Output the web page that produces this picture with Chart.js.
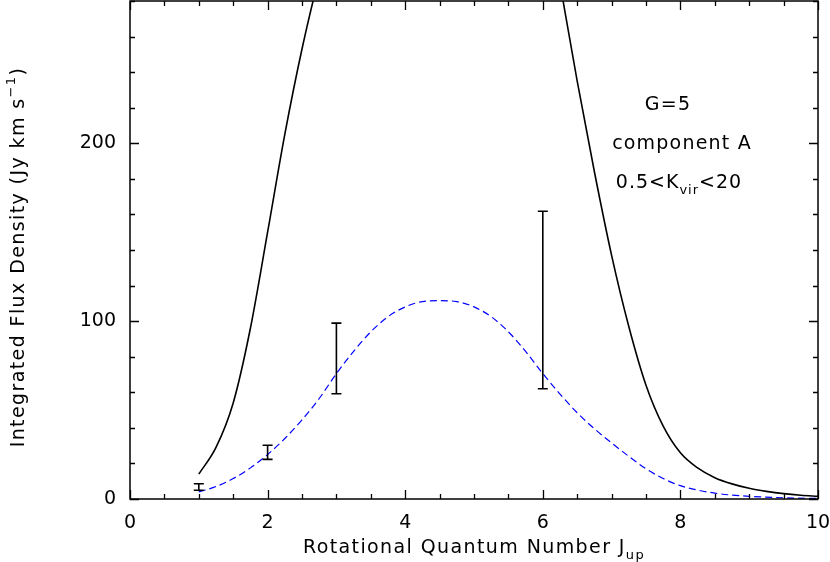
<!DOCTYPE html>
<html>
<head>
<meta charset="utf-8">
<script src="https://cdn.jsdelivr.net/npm/chart.js@4"></script>
<style>
  html, body { margin: 0; padding: 0; background: #fff; }
  #wrap { width: 830px; height: 562px; }
</style>
</head>
<body>
<div id="wrap"><canvas id="c" width="830" height="562"></canvas></div>
<script>
// ---- data ----
const modelJ      = [1.0, 1.25, 1.5, 1.75, 2.0, 2.25, 2.5, 2.75, 3.0, 6.0, 6.25, 6.5, 6.75, 7.0, 7.25, 7.5, 7.75, 8.0, 8.25, 8.5, 8.75, 9.0, 9.25, 9.5, 9.75, 10.0];
const upperModel  = [14, 29, 54, 96, 150, 205, 253, 294, 330, 345, 290, 235, 184, 137, 97, 64, 41, 26, 17.5, 12, 8.5, 6, 4.3, 3, 2.1, 1.5];

const fitJ        = [1.0, 1.25, 1.5, 1.75, 2.0, 2.25, 2.5, 2.75, 3.0, 3.25, 3.5, 3.75, 4.0, 4.25, 4.5, 4.75, 5.0, 5.25, 5.5, 5.75, 6.0, 6.25, 6.5, 6.75, 7.0, 7.25, 7.5, 7.75, 8.0, 8.25, 8.5, 8.75, 9.0, 9.5, 10.0];
const fitModel    = [4, 7, 11.5, 17.5, 25, 34, 44.5, 56.5, 70.5, 83, 94, 102.5, 108, 111, 111.5, 111, 108, 102.5, 94, 83, 70.5, 59, 48.5, 39.5, 31.5, 24, 17, 11.5, 7.5, 5, 3.3, 2.2, 1.5, 0.7, 0.3];

const obsJ        = [1, 2, 3, 6];
const obsLow      = [4.9, 22.3, 59.2, 62.0];
const obsHigh     = [8.6, 30.2, 98.9, 161.8];

const xTickLabels = ['0', '2', '4', '6', '8', '10'];
const yTickLabels = ['0', '100', '200'];

const annotation  = ['G=5', 'component A'];
const FONT = '"DejaVu Sans", "Liberation Sans", sans-serif';

// ---- plugins ----
const framePlugin = {
  id: 'frame',
  afterDraw(chart) {
    const ctx = chart.ctx;
    const { left, right, top, bottom } = chart.chartArea;
    const xs = chart.scales.x, ys = chart.scales.y;
    ctx.save();
    ctx.strokeStyle = '#000';
    ctx.lineWidth = 1.5;
    ctx.strokeRect(left, top, right - left, bottom - top);
    ctx.lineWidth = 1.3;
    ctx.beginPath();
    for (let v = xs.min; v <= xs.max + 1e-9; v += 0.5) {
      const px = Math.round(xs.getPixelForValue(v)) + 0.5;
      const len = (Math.abs(v % 2) < 1e-9) ? 9 : 5;
      ctx.moveTo(px, bottom); ctx.lineTo(px, bottom - len);
      ctx.moveTo(px, top); ctx.lineTo(px, top + len);
    }
    for (let v = ys.min; v <= ys.max + 1e-9; v += 20) {
      const py = Math.round(ys.getPixelForValue(v)) + 0.5;
      const len = (Math.abs(v % 100) < 1e-9) ? 9 : 5;
      ctx.moveTo(left, py); ctx.lineTo(left + len, py);
      ctx.moveTo(right, py); ctx.lineTo(right - len, py);
    }
    ctx.stroke();
    ctx.restore();
  }
};

const errorBarPlugin = {
  id: 'errbars',
  afterDatasetsDraw(chart) {
    const ctx = chart.ctx;
    const xs = chart.scales.x, ys = chart.scales.y;
    ctx.save();
    ctx.strokeStyle = '#000';
    ctx.lineWidth = 1.6;
    ctx.beginPath();
    obsJ.forEach((j, i) => {
      const px = xs.getPixelForValue(j);
      const y1 = ys.getPixelForValue(obsLow[i]);
      const y2 = ys.getPixelForValue(obsHigh[i]);
      ctx.moveTo(px, y1); ctx.lineTo(px, y2);
      ctx.moveTo(px - 5, y1); ctx.lineTo(px + 5, y1);
      ctx.moveTo(px - 5, y2); ctx.lineTo(px + 5, y2);
    });
    ctx.stroke();
    ctx.restore();
  }
};

function drawWithScript(ctx, parts, x, y, align, size, spacing) {
  // parts: [{t, s}] s = 0 normal, -1 subscript, 1 superscript
  const small = Math.round(size * 0.68);
  ctx.letterSpacing = spacing + 'px';
  let total = 0;
  parts.forEach(p => {
    ctx.font = (p.s ? small : size) + 'px ' + FONT;
    total += ctx.measureText(p.t).width;
  });
  let cx = align === 'center' ? x - total / 2 : x;
  ctx.textAlign = 'left';
  ctx.textBaseline = 'alphabetic';
  parts.forEach(p => {
    ctx.font = (p.s ? small : size) + 'px ' + FONT;
    const dy = p.s === -1 ? size * 0.3 : (p.s === 1 ? -size * 0.45 : 0);
    ctx.fillText(p.t, cx, y + dy);
    cx += ctx.measureText(p.t).width;
  });
  ctx.letterSpacing = '0px';
}

const textPlugin = {
  id: 'texts',
  afterDraw(chart) {
    const ctx = chart.ctx;
    ctx.save();
    ctx.fillStyle = '#000';
    // annotation
    drawWithScript(ctx, [{ t: annotation[0], s: 0 }], 668, 110, 'center', 19, 1.2);
    drawWithScript(ctx, [{ t: annotation[1], s: 0 }], 682, 149, 'center', 19, 1.2);
    drawWithScript(ctx, [{ t: '0.5<K', s: 0 }, { t: 'vir', s: -1 }, { t: '<20', s: 0 }], 679, 188, 'center', 19, 1.0);
    // x title
    drawWithScript(ctx, [{ t: 'Rotational Quantum Number J', s: 0 }, { t: 'up', s: -1 }], 474, 553, 'center', 19, 1.4);
    // y title
    ctx.translate(24, 257);
    ctx.rotate(-Math.PI / 2);
    drawWithScript(ctx, [{ t: 'Integrated Flux Density (Jy km s', s: 0 }, { t: '\u22121', s: 1 }, { t: ')', s: 0 }], 0, 0, 'center', 19, 1.4);
    ctx.restore();
  }
};

new Chart(document.getElementById('c'), {
  type: 'scatter',
  data: {
    datasets: [
      {
        label: 'upper model',
        data: modelJ.map((j, i) => ({ x: j, y: upperModel[i] })),
        showLine: true,
        borderColor: '#000',
        borderWidth: 1.6,
        pointRadius: 0,
        cubicInterpolationMode: 'monotone',
        fill: false
      },
      {
        label: 'fit',
        data: fitJ.map((j, i) => ({ x: j, y: fitModel[i] })),
        showLine: true,
        borderColor: '#0000ff',
        borderWidth: 1.2,
        borderDash: [7, 4],
        pointRadius: 0,
        cubicInterpolationMode: 'monotone',
        fill: false
      },
      {
        label: 'observed',
        data: obsJ.map((j, i) => ({ x: j, y: (obsLow[i] + obsHigh[i]) / 2 })),
        pointRadius: 0,
        showLine: false
      }
    ]
  },
  options: {
    responsive: false,
    animation: false,
    devicePixelRatio: 1,
    layout: { padding: { top: 1, right: 12, left: 0, bottom: 0 } },
    plugins: { legend: { display: false }, tooltip: { enabled: false } },
    scales: {
      x: {
        type: 'linear',
        min: 0, max: 10,
        afterFit(scale) { scale.height = 63; scale.paddingLeft = 0; scale.paddingRight = 0; },
        border: { display: false },
        grid: { display: false, drawTicks: false },
        ticks: {
          stepSize: 2,
          padding: 13,
          color: '#000',
          font: { family: FONT, size: 19 },
          maxRotation: 0,
          callback: (v) => xTickLabels[v / 2]
        }
      },
      y: {
        type: 'linear',
        min: 0, max: 280,
        afterFit(scale) { scale.width = 130; scale.paddingTop = 0; scale.paddingBottom = 0; },
        border: { display: false },
        grid: { display: false, drawTicks: false },
        ticks: {
          stepSize: 100,
          includeBounds: false,
          padding: 14,
          color: '#000',
          font: { family: FONT, size: 19 },
          callback: (v) => yTickLabels[v / 100]
        }
      }
    }
  },
  plugins: [framePlugin, errorBarPlugin, textPlugin]
});
</script>
</body>
</html>
